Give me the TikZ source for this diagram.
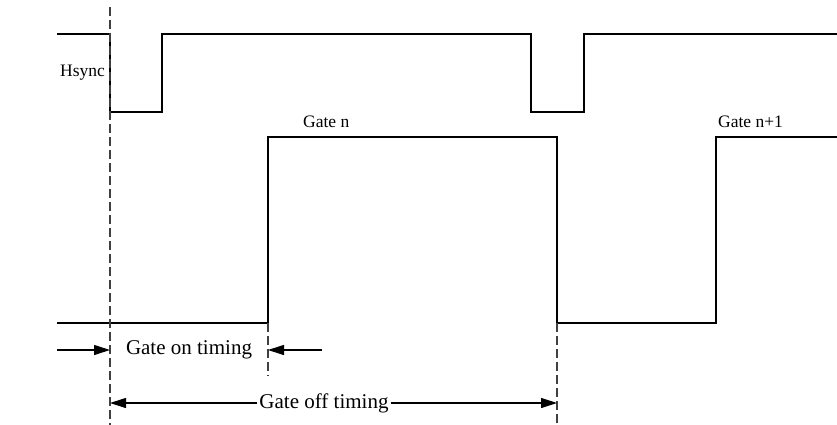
\documentclass[tikz,border=0pt]{standalone}
\usepackage{fontspec}
\setmainfont{Liberation Serif}
\usetikzlibrary{arrows.meta}
\begin{document}
\begin{tikzpicture}[x=1pt,y=-1pt,
  sig/.style={line width=1.3pt},
  guide/.style={line width=1.1pt,dash pattern=on 9pt off 4pt,draw=black!75},
  dim/.style={line width=1.1pt,-{Triangle[length=16pt,width=10pt]}},
  lbl/.style={font=\fontsize{17.5}{20}\selectfont,inner sep=0pt},
  tlbl/.style={font=\fontsize{21}{24}\selectfont,inner sep=0pt}]
\useasboundingbox (0,0) rectangle (837,425);
% Hsync
\coordinate (h0) at (57,34);
\coordinate (h1) at (110,34);
\coordinate (h2) at (110,112);
\coordinate (h3) at (162,112);
\coordinate (h4) at (162,34);
\coordinate (h5) at (531,34);
\coordinate (h6) at (531,112);
\coordinate (h7) at (584,112);
\coordinate (h8) at (584,34);
\coordinate (h9) at (837,34);
\draw[sig] (h0) -- (h1) -- (h2) -- (h3) -- (h4) -- (h5) -- (h6) -- (h7) -- (h8) -- (h9);
% Gate
\coordinate (g0) at (57,323);
\coordinate (g1) at (268,323);
\coordinate (g2) at (268,137);
\coordinate (g3) at (557,137);
\coordinate (g4) at (557,323);
\coordinate (g5) at (716,323);
\coordinate (g6) at (716,137);
\coordinate (g7) at (837,137);
\draw[sig] (g0) -- (g1) -- (g2) -- (g3) -- (g4) -- (g5) -- (g6) -- (g7);
% labels
\node[lbl,anchor=west] (hs) at (60,73) {Hsync};
\node[lbl,anchor=west] (gn) at (303,122) {Gate n};
\node[lbl,anchor=west] (gn1) at (718,122) {Gate n+1};
% guides
\coordinate (d1t) at (110,7);
\coordinate (d1b) at (110,425);
\coordinate (d2b) at (268,376);
\coordinate (d3b) at (557,425);
\draw[guide] (d1t) -- (d1b);
\draw[guide] (g1) -- (d2b);
\draw[guide] (g4) -- (d3b);
% gate on timing
\coordinate (a1s) at (57,350);
\coordinate (a1e) at (110,350);
\coordinate (a2s) at (322,350);
\coordinate (a2e) at (268,350);
\node[tlbl] (gon) at (189,350) {Gate on timing};
\draw[dim] (a1s) -- (a1e);
\draw[dim] (a2s) -- (a2e);
% gate off timing
\coordinate (b1e) at (110,403);
\coordinate (b2e) at (557,403);
\node[tlbl,fill=white,inner xsep=2pt] (goff) at (324,403) {Gate off timing\hspace{12pt}};
\draw[dim] (goff.west) -- (b1e);
\draw[dim] (goff.east) -- (b2e);
\end{tikzpicture}
\end{document}
